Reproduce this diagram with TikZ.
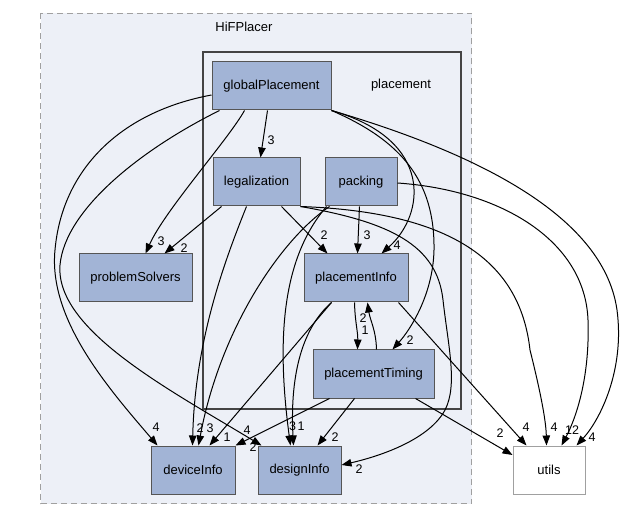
\documentclass[tikz,border=0pt]{standalone}
\usepackage{fontspec}
\setmainfont{Liberation Sans}
\usetikzlibrary{arrows.meta,calc}
\definecolor{clfill}{HTML}{EDF0F7}
\definecolor{nfill}{HTML}{A2B4D6}
\definecolor{nborder}{HTML}{555555}
\definecolor{innerborder}{HTML}{444444}
\definecolor{outerborder}{HTML}{A0A0A0}
\definecolor{extborder}{HTML}{A0A0A0}
\begin{document}
\begin{tikzpicture}[x=1pt,y=-1pt,
  box/.style={draw=nborder, fill=nfill, line width=1pt, minimum height=48pt, inner sep=0pt, font=\fontsize{13}{15}\selectfont},
  ext/.style={draw=extborder, fill=white, line width=1pt, minimum height=48pt, inner sep=0pt, font=\fontsize{13}{15}\selectfont},
  dep/.style={line width=1pt, -{Triangle[length=10pt,width=7.5pt]}},
  lbl/.style={inner sep=0pt, font=\fontsize{12.5}{14}\selectfont},
  ttl/.style={inner sep=0pt, font=\fontsize{13}{15}\selectfont}]
\useasboundingbox (0,0) rectangle (624,521);
\fill[white] (0,0) rectangle (624,521);
\path[fill=clfill, draw=outerborder, dash pattern=on 6pt off 4pt, line width=1.5pt] (40.5,13.5) rectangle (471.5,503.5);
\node[ttl] (title) at (244,27) {HiFPlacer};
\path[fill=clfill, draw=innerborder, line width=2pt] (203,52) rectangle (461,409);
\node[ttl] (ptitle) at (401,85) {placement};

\node[box, minimum width=119pt] (gp) at (271.5,86) {globalPlacement};
\node[box, minimum width=87pt] (leg) at (256.5,182) {legalization};
\node[box, minimum width=72pt] (pack) at (361,182) {packing};
\node[box, minimum width=104pt] (pi) at (356,278) {placementInfo};
\node[box, minimum width=121pt] (pt) at (373.5,374) {placementTiming};
\node[box, minimum width=113pt] (ps) at (135.5,278) {problemSolvers};
\node[box, minimum width=84pt] (dev) at (193,470) {deviceInfo};
\node[box, minimum width=83pt] (des) at (299.5,470) {designInfo};
\node[ext, minimum width=72pt] (ut) at (549,470) {utils};

% globalPlacement
\draw[dep] ($(gp.west)+(0,9)$) .. controls (120,112) and (62,170) .. (55,250) .. controls (48,320) and (110,390) .. ($(dev.north west)+(7,0)$);
\draw[dep] ($(gp.south west)+(8,0)$) .. controls (140,150) and (65,210) .. (60,265) .. controls (55,330) and (170,390) .. ($(des.north west)+(4,0)$);
\draw[dep] ($(gp.south west)+(33,0)$) .. controls (228,140) and (165,210) .. ($(ps.north west)+(67,0)$);
\draw[dep] ($(gp.south west)+(56,0)$) -- ($(leg.north west)+(48,0)$);
\draw[dep] (gp.south east) .. controls (435,140) and (425,215) .. ($(pi.north west)+(78,0)$);
\draw[dep] (gp.south east) .. controls (400,140) and (435,180) .. (434,250) .. controls (433,295) and (410,330) .. ($(pt.north west)+(80,0)$);
\draw[dep] (gp.south east) .. controls (500,160) and (605,225) .. (617,310) .. controls (625,370) and (600,420) .. ($(ut.north west)+(64,0)$);

% legalization
\draw[dep] ($(leg.south west)+(9,0)$) -- ($(ps.north west)+(86,0)$);
\draw[dep] ($(leg.south west)+(69,0)$) -- ($(pi.north west)+(24,0)$);
\draw[dep] ($(leg.south west)+(34,0)$) .. controls (225,260) and (195,340) .. ($(dev.north west)+(42,0)$);
\draw[dep] (leg.south east) .. controls (390,222) and (437,245) .. (443,300) .. controls (448,345) and (458,385) .. (445,410) .. controls (430,438) and (385,455) .. ($(des.east)+(0,-5)$);
\draw[dep] (leg.south east) .. controls (450,212) and (520,260) .. (530,350) .. controls (540,390) and (546,420) .. ($(ut.north west)+(34,0)$);

% packing
\draw[dep] ($(pack.south west)+(35,0)$) -- ($(pi.north west)+(54,0)$);
\draw[dep] ($(pack.south west)+(5,0)$) .. controls (280,240) and (220,330) .. ($(dev.north west)+(48,0)$);
\draw[dep] ($(pack.south west)+(2,0)$) .. controls (285,255) and (275,330) .. ($(des.north west)+(33,0)$);
\draw[dep] ($(pack.east)+(0,1)$) .. controls (500,190) and (585,240) .. (588,320) .. controls (590,380) and (575,420) .. ($(ut.north west)+(49,0)$);

% placementInfo
\draw[dep] ($(pi.south west)+(51,0)$) .. controls (355,322) and (358,332) .. ($(pt.north west)+(45,0)$);
\draw[dep] ($(pi.south west)+(28,0)$) -- ($(dev.north west)+(59,0)$);
\draw[dep] ($(pi.south west)+(28,0)$) .. controls (300,330) and (290,380) .. ($(des.north west)+(36,0)$);
\draw[dep] ($(pi.south east)+(-10,0)$) -- ($(ut.north west)+(14,0)$);

% placementTiming
\draw[dep] ($(pt.north west)+(64,0)$) .. controls (376,330) and (370,320) .. ($(pi.south west)+(64,0)$);
\draw[dep] ($(pt.south west)+(17,0)$) -- (dev.north east);
\draw[dep] ($(pt.south west)+(42,0)$) -- ($(des.north west)+(60,0)$);
\draw[dep] ($(pt.south east)+(-19,0)$) -- ($(ut.west)+(0,-15)$);

% labels
\node[lbl] (l1) at (271,140) {3};
\node[lbl] (l2) at (161,241) {3};
\node[lbl] (l3) at (184,248) {2};
\node[lbl] (l4) at (156,427) {4};
\node[lbl] (l5) at (247,430) {4};
\node[lbl] (l6) at (397,245) {4};
\node[lbl] (l7) at (410,340) {2};
\node[lbl] (l8) at (592,437) {4};
\node[lbl] (l9) at (324,235) {2};
\node[lbl] (l10) at (200,428) {2};
\node[lbl] (l11) at (359,469) {2};
\node[lbl] (l12) at (554,427) {4};
\node[lbl] (l13) at (367,235) {3};
\node[lbl] (l14) at (210,428) {3};
\node[lbl] (l15) at (292.5,426) {3};
\node[lbl] (l16) at (572,430) {12};
\node[lbl] (l17) at (363,318.5) {2};
\node[lbl] (l18) at (365,330.5) {1};
\node[lbl] (l19) at (227,437) {1};
\node[lbl] (l20) at (301,426) {1};
\node[lbl] (l21) at (526,427) {4};
\node[lbl] (l22) at (253,447) {2};
\node[lbl] (l23) at (335,437) {2};
\node[lbl] (l24) at (500,433) {2};
\end{tikzpicture}
\end{document}
